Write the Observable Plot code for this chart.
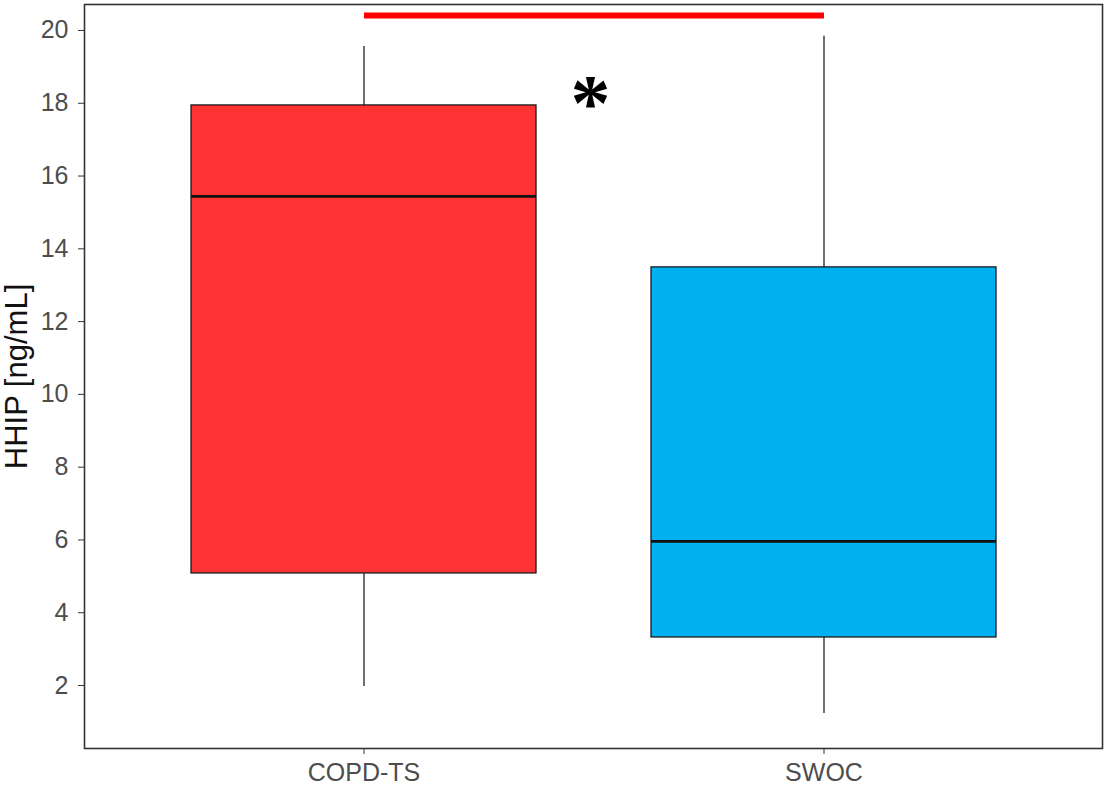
<!DOCTYPE html>
<html>
<head>
<meta charset="utf-8">
<script src="https://cdn.jsdelivr.net/npm/d3@7"></script>
<script src="https://cdn.jsdelivr.net/npm/@observablehq/plot@0.6"></script>
<style>
  html, body { margin: 0; padding: 0; background: #fff; }
  #chart svg { display: block; }
  g[aria-label$="tick label"] { fill: #4d4d4d; }
</style>
</head>
<body>
<div id="chart"></div>
<script>
// Data
const groups = ["COPD-TS", "SWOC"];
const lowerWhisker = [1.97, 1.23];
const q1 = [5.08, 3.32];
const median = [15.44, 5.96];
const q3 = [17.94, 13.49];
const upperWhisker = [19.56, 19.84];
const fills = ["#FF3333", "#00B0F0"];
const yTicks = [2, 4, 6, 8, 10, 12, 14, 16, 18, 20];
const yLabel = "HHIP [ng/mL]";
const sigLevel = 20.41;   // significance bar
const sigMark = "*";
const sigMarkY = 18.3;

const rows = groups.map((g, i) => ({
  group: g, lo: lowerWhisker[i], q1: q1[i], med: median[i], q3: q3[i], hi: upperWhisker[i], fill: fills[i]
}));

const chart = Plot.plot({
  width: 1108,
  height: 790,
  marginLeft: 84,
  marginRight: 6,
  marginTop: 4,
  marginBottom: 42,
  style: { fontFamily: "'Liberation Sans', Arial, sans-serif", background: "#fff" },
  x: { type: "band", domain: groups, paddingInner: 0.25, paddingOuter: 0.23, label: null },
  y: { domain: [0.269, 20.714], label: null },
  marks: [
    Plot.ruleX(rows, { x: "group", y1: "lo", y2: "q1", stroke: "#222", strokeWidth: 1.3 }),
    Plot.ruleX(rows, { x: "group", y1: "q3", y2: "hi", stroke: "#222", strokeWidth: 1.3 }),
    Plot.barY(rows, { x: "group", y1: "q1", y2: "q3", fill: "fill", stroke: "#1a1a1a", strokeWidth: 1.3 }),
    Plot.tickY(rows, { x: "group", y: "med", stroke: "#111", strokeWidth: 2.6 }),
    Plot.link([0], { x1: () => groups[0], x2: () => groups[1], y1: () => sigLevel, y2: () => sigLevel, stroke: "#FF0000", strokeWidth: 6 }),
    Plot.text([sigMark], { text: d => d, frameAnchor: "middle", lineAnchor: "middle", y: () => sigMarkY, fontSize: 80, fontWeight: "bold", fontFamily: "'Liberation Serif', 'Times New Roman', serif", fill: "#000", dy: 12, dx: -3 }),
    Plot.frame({ stroke: "#333", strokeWidth: 1.6 }),
    Plot.axisY({ ticks: yTicks, tickSize: 6, tickPadding: 10, fontSize: 25, stroke: "#333", label: null }),
    Plot.axisX({ tickSize: 6, tickPadding: 9, fontSize: 25, stroke: "#333", label: null }),
    Plot.text([yLabel], { text: d => d, frameAnchor: "left", textAnchor: "middle", rotate: -90, dx: -67, fontSize: 31, fill: "#111" })
  ]
});
document.getElementById("chart").appendChild(chart);
</script>
</body>
</html>
